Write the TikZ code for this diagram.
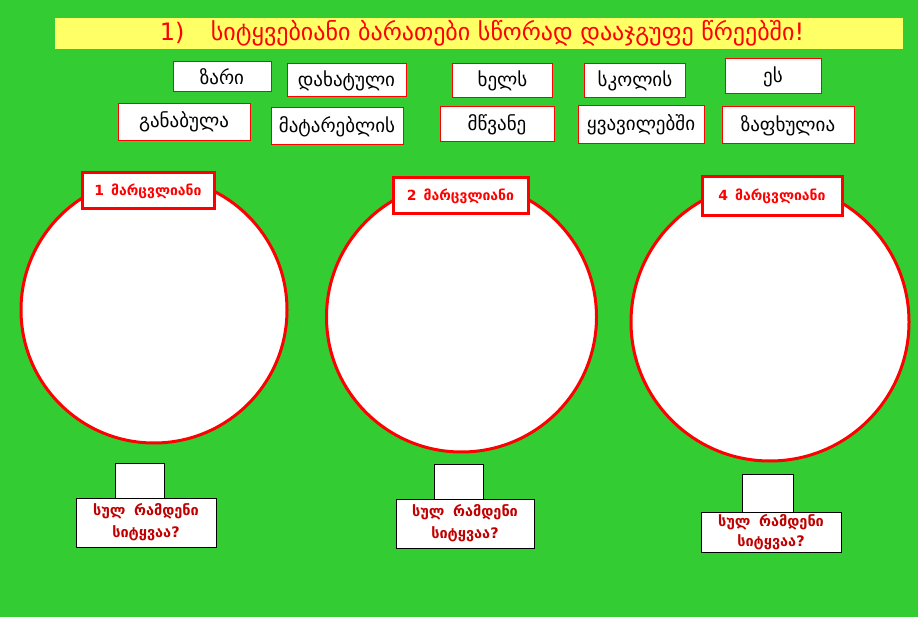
\documentclass[tikz,border=0pt]{standalone}
\usepackage{fontspec}
\setmainfont{DejaVu Sans}
\definecolor{bg}{HTML}{33CC33}
\definecolor{hdr}{HTML}{FFFF66}
\definecolor{dred}{HTML}{C00000}
\tikzset{
  wordbox/.style={draw=red, line width=1pt, fill=white, inner sep=0pt,
    font=\fontsize{19}{22}\selectfont, text=black},
  ring/.style={circle, draw=red, line width=3pt, fill=white, inner sep=0pt},
  tagbox/.style={draw=red, line width=3pt, fill=white, inner sep=0pt,
    font=\bfseries\fontsize{14}{16}\selectfont, text=red},
  countbox/.style={draw=black, line width=1pt, fill=white, inner sep=0pt},
  askbox/.style={draw=black, line width=1pt, fill=white, inner sep=0pt,
    align=center, font=\bfseries\fontsize{14.5}{22}\selectfont, text=dred},
}
\begin{document}
\begin{tikzpicture}[x=1pt,y=-1pt]
\fill[bg] (0,0) rectangle (918,617);
\useasboundingbox (0,0) rectangle (918,617);
% header
\node[fill=hdr, minimum width=848pt, minimum height=31pt, inner sep=0pt,
  text=red, font=\fontsize{24}{27}\selectfont] (title) at (479,33.5)
  {\hspace{6pt}1)\hspace{1.1em}სიტყვებიანი ბარათები სწორად დააჯგუფე წრეებში!};
% word cards
\node[wordbox, minimum width=98pt, minimum height=30pt] (w1) at (222,77) {ზარი};
\node[wordbox, minimum width=119pt, minimum height=33pt] (w2) at (346.5,80.5) {დახატული};
\node[wordbox, minimum width=100pt, minimum height=34pt] (w3) at (502.5,81) {ხელს};
\node[wordbox, minimum width=101pt, minimum height=34pt] (w4) at (635,81) {სკოლის};
\node[wordbox, minimum width=96pt, minimum height=35pt] (w5) at (773,76.5) {ეს};
\node[wordbox, minimum width=132pt, minimum height=37pt] (w6) at (184,122) {განაბულა};
\node[wordbox, minimum width=132pt, minimum height=37pt] (w7) at (337,126.5) {მატარებლის};
\node[wordbox, minimum width=114pt, minimum height=35pt] (w8) at (497,124.5) {მწვანე};
\node[wordbox, minimum width=126pt, minimum height=38pt] (w9) at (641,125) {ყვავილებში};
\node[wordbox, minimum width=132pt, minimum height=37pt] (w10) at (788,125.5) {ზაფხულია};
% circles
\node[ring, minimum size=266pt] (c1) at (154,310) {};
\node[ring, minimum size=270pt] (c2) at (461.5,317) {};
\node[ring, minimum size=278pt] (c3) at (770,322) {};
% circle tags
\node[tagbox, minimum width=132pt, minimum height=36pt] (t1) at (148,191) {1\hspace{0.5em}მარცვლიანი};
\node[tagbox, minimum width=135pt, minimum height=36pt] (t2) at (460.5,196) {2\hspace{0.5em}მარცვლიანი};
\node[tagbox, minimum width=140pt, minimum height=39pt] (t3) at (772,196.5) {4\hspace{0.5em}მარცვლიანი};
% count boxes
\node[countbox, minimum width=49pt, minimum height=35pt] (n1) at (139.5,480.5) {};
\node[askbox, minimum width=140pt, minimum height=49pt] (q1) at (146,522.5) {სულ\hspace{0.6em}რამდენი\\სიტყვაა?};
\node[countbox, minimum width=49pt, minimum height=35pt] (n2) at (458.5,481.5) {};
\node[askbox, minimum width=138pt, minimum height=49pt] (q2) at (465,523.5) {სულ\hspace{0.6em}რამდენი\\სიტყვაა?};
\node[countbox, minimum width=51pt, minimum height=38pt] (n3) at (767.5,493) {};
\node[askbox, minimum width=140pt, minimum height=40pt,
  font=\bfseries\fontsize{14.5}{20}\selectfont] (q3) at (771,532) {სულ\hspace{0.6em}რამდენი\\სიტყვაა?};
\end{tikzpicture}
\end{document}
